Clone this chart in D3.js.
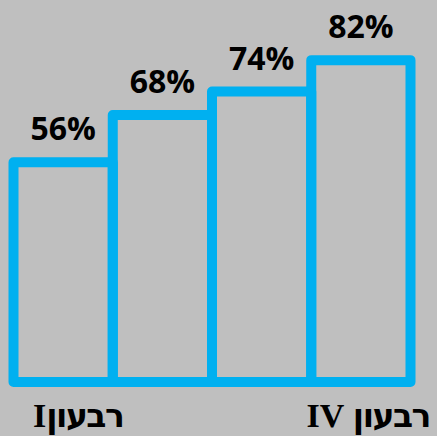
<!DOCTYPE html>
<html>
<head>
<meta charset="utf-8">
<script src="https://cdn.jsdelivr.net/npm/d3@7"></script>
<style>
  body { margin: 0; background: #bfbfbf; }
  svg { display: block; }
</style>
</head>
<body>
<svg id="chart"></svg>
<script>
// data
var quarters = ["רבעון I", "רבעון II", "רבעון III", "רבעון IV"]
var values = [56, 68, 74, 82]
var shownLabels = ["רבעון I", "רבעון IV"]

var width = 437, height = 436
var svg = d3.select("#chart").attr("width", width).attr("height", height)

svg.append("rect").attr("width", width).attr("height", height).attr("fill", "#bfbfbf")

// scales
var x = d3.scaleBand().domain(quarters).range([13.5, 410.5]).padding(0)
var y = d3.scaleLinear().domain([0, 100]).range([382, -10.5])

// bars, outline only
svg.append("g")
   .selectAll("rect")
   .data(values)
   .enter()
   .append("rect")
   .attr("x", (d, i) => x(quarters[i]))
   .attr("y", d => y(d))
   .attr("width", x.bandwidth())
   .attr("height", d => y(0) - y(d))
   .attr("fill", "none")
   .attr("stroke", "#00b0f0")
   .attr("stroke-width", 10)
   .attr("stroke-linejoin", "round")

// value labels
svg.append("g")
   .selectAll("text")
   .data(values)
   .enter()
   .append("text")
   .attr("x", (d, i) => x(quarters[i]) + x.bandwidth() / 2)
   .attr("y", d => y(d) - 22)
   .attr("text-anchor", "middle")
   .style("font-family", "'Open Sans', sans-serif")
   .style("font-weight", "bold")
   .style("font-size", "32px")
   .attr("fill", "#000")
   .text(d => d + "%")

// category labels (only first and last shown)
var catLabels = svg.append("g")
   .selectAll("text")
   .data(shownLabels)
   .enter()
   .append("text")
   .attr("x", (d, i) => i == 0 ? 33 : 430)
   .attr("y", 427)
   .attr("text-anchor", (d, i) => i == 0 ? "end" : "start")
   .style("direction", "rtl")
   .style("unicode-bidi", "embed")
   .style("font-weight", "bold")
   .attr("fill", "#000")

catLabels.append("tspan")
   .style("font-family", "'DejaVu Sans', sans-serif")
   .style("font-size", "33px")
   .style("letter-spacing", "-1.5px")
   .text(d => d.split(" ")[0])

catLabels.append("tspan")
   .style("font-family", "'Liberation Serif', serif")
   .style("font-size", "34px")
   .text((d, i) => (i == 0 ? "" : " ") + d.split(" ")[1])
</script>
</body>
</html>
